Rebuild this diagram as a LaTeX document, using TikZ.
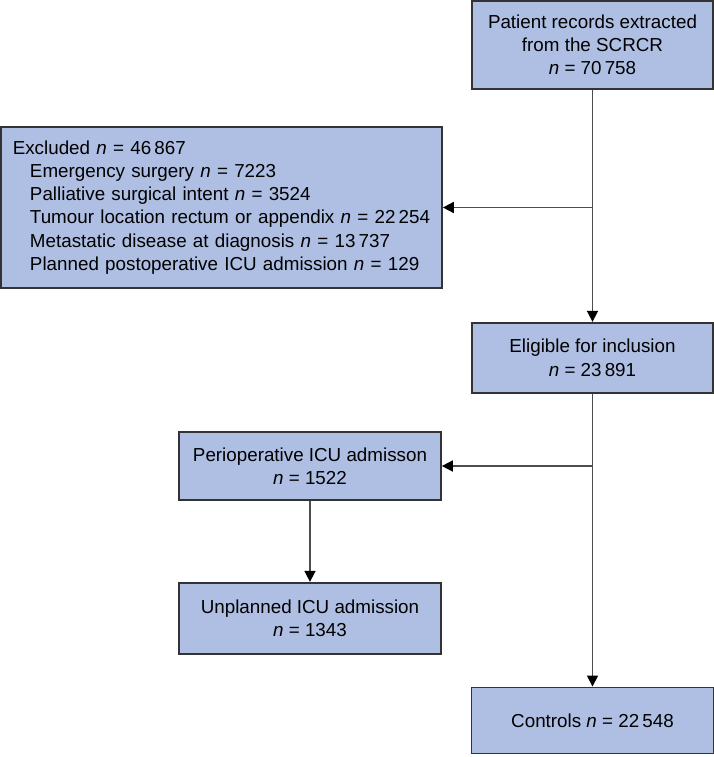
\documentclass[tikz,border=0pt]{standalone}
\usepackage{fontspec}
\setmainfont{Liberation Sans}
\usepackage{xcolor}
\usetikzlibrary{arrows.meta,positioning}
\definecolor{boxfill}{HTML}{AEBFE3}
\definecolor{boxline}{HTML}{333333}
\definecolor{linkgray}{HTML}{4D4D4D}
\newcommand{\nn}{\textit{n}}
\tikzset{
  flowbox/.style={draw=boxline,fill=boxfill,line width=0.85pt,align=center,inner sep=3pt},
  link/.style={draw=linkgray,line width=0.8pt,-{Triangle[length=5.5pt,width=5.5pt,color=black]}}
}

\begin{document}
\begin{tikzpicture}[x=0.5pt,y=-0.5pt,font=\fontsize{9.4}{11.6}\selectfont]
  \useasboundingbox (0,0) rectangle (714,757);
  % Source
  \node (records) [flowbox,minimum width=120.5pt,minimum height=44pt] at (592.5,45) {Patient records extracted\\ from the SCRCR\\ \nn{} = 70\,758};
  % Exclusions
  \node (excluded) [flowbox,minimum height=80.5pt,text width=208.7pt,inner xsep=5.9pt,align=left] at (221.5,207.5) {Excluded \nn{} = 46\,867\\
    \hspace*{8.6pt}Emergency surgery \nn{} = 7223\\
    \hspace*{8.6pt}Palliative surgical intent \nn{} = 3524\\
    \hspace*{8.6pt}Tumour location rectum or appendix \nn{} = 22\,254\\
    \hspace*{8.6pt}Metastatic disease at diagnosis \nn{} = 13\,737\\
    \hspace*{8.6pt}Planned postoperative ICU admission \nn{} = 129};
  % Eligible
  \node (eligible) [flowbox,minimum width=120.5pt,minimum height=35pt,below=116pt of records] {Eligible for inclusion\\ \nn{} = 23\,891};
  % ICU groups
  \node (perio) [flowbox,minimum width=131pt,minimum height=34pt] at (310,466) {Perioperative ICU admisson\\ \nn{} = 1522};
  \node (unplanned) [flowbox,minimum width=131pt,minimum height=35.5pt,below=40.5pt of perio] {Unplanned ICU admission\\ \nn{} = 1343};
  % Controls
  \node (controls) [flowbox,minimum width=121pt,minimum height=33pt,below=146.5pt of eligible] {Controls \nn{} = 22\,548};
  % branch points
  \coordinate (split1) at (records.south |- excluded.east);
  \coordinate (split2) at (eligible.south |- perio.east);
  % arrows
  \draw[link] (records) -- (eligible);
  \draw[link] (split1) -- (excluded);
  \draw[link] (eligible) -- (controls);
  \draw[link] (split2) -- (perio);
  \draw[link] (perio) -- (unplanned);
\end{tikzpicture}
\end{document}
